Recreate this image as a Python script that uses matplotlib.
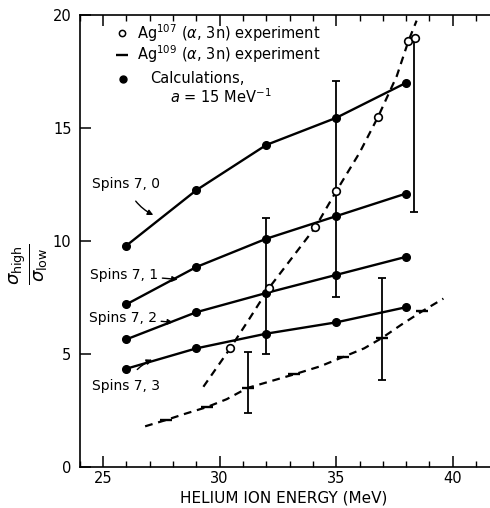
import matplotlib
matplotlib.use("Agg")
import matplotlib.pyplot as plt

# calculated ratios (a = 15 MeV^-1)
calc_energy = [26, 29, 32, 35, 38]
spins_70 = [9.8, 12.25, 14.25, 15.45, 17.0]
spins_71 = [7.2, 8.85, 10.1, 11.1, 12.1]
spins_72 = [5.65, 6.85, 7.7, 8.5, 9.3]
spins_73 = [4.35, 5.25, 5.9, 6.4, 7.07]

# Ag107 (alpha, 3n) experiment
ag107_energy = [30.45, 32.1, 34.1, 35.0, 36.8, 38.1, 38.4]
ag107_ratio = [5.25, 7.9, 10.6, 12.2, 15.5, 18.85, 19.0]
ag107_curve_x = [29.3, 30.45, 31.3, 32.1, 33.1, 34.1, 35.0, 36.0, 36.8, 37.6, 38.1, 38.45]
ag107_curve_y = [3.55, 5.25, 6.6, 7.9, 9.25, 10.6, 12.2, 13.9, 15.5, 17.3, 18.85, 19.75]

# Ag109 (alpha, 3n) experiment
ag109_energy = [27.7, 29.45, 31.2, 33.2, 35.3, 36.95, 38.7]
ag109_ratio = [2.08, 2.65, 3.5, 4.1, 4.87, 5.7, 6.9]
ag109_curve_x = [26.8, 27.7, 28.5, 29.45, 30.3, 31.2, 32.2, 33.2, 34.3, 35.3, 36.2, 36.95, 37.8, 38.7, 39.6]
ag109_curve_y = [1.8, 2.08, 2.35, 2.65, 3.0, 3.5, 3.8, 4.1, 4.45, 4.87, 5.25, 5.7, 6.3, 6.9, 7.45]

# error bars
err_x = [31.2, 32.0, 35.0, 36.95, 38.35]
err_lo = [2.4, 5.0, 7.5, 3.85, 11.28]
err_hi = [5.1, 11.0, 17.1, 8.35, 19.0]

fig = plt.figure(figsize=(4.9, 5.08), dpi=100)
ax = fig.add_axes([0.163, 0.0807, 0.837, 0.8898])
fs = 10.5

for ys in [spins_70, spins_71, spins_72, spins_73]:
    ax.plot(calc_energy, ys, color="black", lw=1.7, marker="o", ms=5.5, zorder=3)

ax.plot(ag107_curve_x, ag107_curve_y, color="black", lw=1.6, dashes=(3.5, 2.6))
ax.plot(ag107_energy, ag107_ratio, ls="none", marker="o", ms=5.5, mfc="white",
        mec="black", mew=1.2, zorder=4)
ax.plot(ag109_curve_x, ag109_curve_y, color="black", lw=1.6, dashes=(3.5, 2.6))
ax.plot(ag109_energy, ag109_ratio, ls="none", marker="_", ms=9, mew=1.7, color="black")

for x, lo, hi in zip(err_x, err_lo, err_hi):
    ax.vlines(x, lo, hi, color="black", lw=1.3)
    ax.hlines([lo, hi], x - 0.17, x + 0.17, color="black", lw=1.3)

# curve labels
ax.annotate("Spins 7, 0", xy=(27.15, 11.15), xytext=(26.0, 12.5), fontsize=fs - 0.5,
            ha="center", va="center",
            arrowprops=dict(arrowstyle="-|>", color="black", lw=1, mutation_scale=8,
                            connectionstyle="arc3,rad=0.2", shrinkA=6, shrinkB=0))
ax.annotate("Spins 7, 1", xy=(28.2, 8.3), xytext=(25.9, 8.5), fontsize=fs - 0.5,
            ha="center", va="center",
            arrowprops=dict(arrowstyle="-|>", color="black", lw=1, mutation_scale=8,
                            shrinkA=1, shrinkB=0))
ax.annotate("Spins 7, 2", xy=(28.0, 6.4), xytext=(25.85, 6.6), fontsize=fs - 0.5,
            ha="center", va="center",
            arrowprops=dict(arrowstyle="-|>", color="black", lw=1, mutation_scale=8,
                            shrinkA=1, shrinkB=0))
ax.annotate("Spins 7, 3", xy=(27.1, 4.75), xytext=(26.0, 3.6), fontsize=fs - 0.5,
            ha="center", va="center",
            arrowprops=dict(arrowstyle="-|>", color="black", lw=1, mutation_scale=8,
                            connectionstyle="arc3,rad=-0.2", shrinkA=6, shrinkB=0))

# legend drawn by hand
ax.plot([25.8], [19.2], marker="o", ms=4.5, mfc="white", mec="black", mew=1.1)
ax.plot([25.8], [18.25], marker="_", ms=8, mew=1.7, color="black")
ax.plot([25.85], [17.15], marker="o", ms=5, color="black")
ax.text(26.45, 19.2, r"Ag$^{107}$ ($\alpha$, 3n) experiment", fontsize=fs, va="center")
ax.text(26.45, 18.25, r"Ag$^{109}$ ($\alpha$, 3n) experiment", fontsize=fs, va="center")
ax.text(27.0, 17.2, "Calculations,", fontsize=fs, va="center")
ax.text(27.85, 16.4, r"$a$ = 15 MeV$^{-1}$", fontsize=fs, va="center")

ax.set_xlim(24.0, 41.6)
ax.set_ylim(0, 20)
ax.set_xticks([25, 30, 35, 40])
ax.set_xticks(range(24, 42), minor=True)
ax.set_yticks([0, 5, 10, 15, 20])
ax.tick_params(axis="x", which="major", direction="in", length=8, width=1.1,
               top=True, labelsize=fs, pad=3)
ax.tick_params(axis="x", which="minor", direction="in", length=4, width=1, top=True)
ax.tick_params(axis="y", which="major", direction="in", length=8, width=1.1,
               labelsize=fs, pad=6)
ax.spines["right"].set_visible(False)
for s in ["left", "bottom", "top"]:
    ax.spines[s].set_linewidth(1.2)

fig.text(0.578, 0.004, "HELIUM ION ENERGY (MeV)", fontsize=fs + 0.5, ha="center",
         va="bottom")
fig.text(0.058, 0.48, r"$\frac{\sigma_{\rm high}}{\sigma_{\rm low}}$", fontsize=fs + 8,
         rotation=90, ha="center", va="center")

fig.savefig("out.png", dpi=100)
